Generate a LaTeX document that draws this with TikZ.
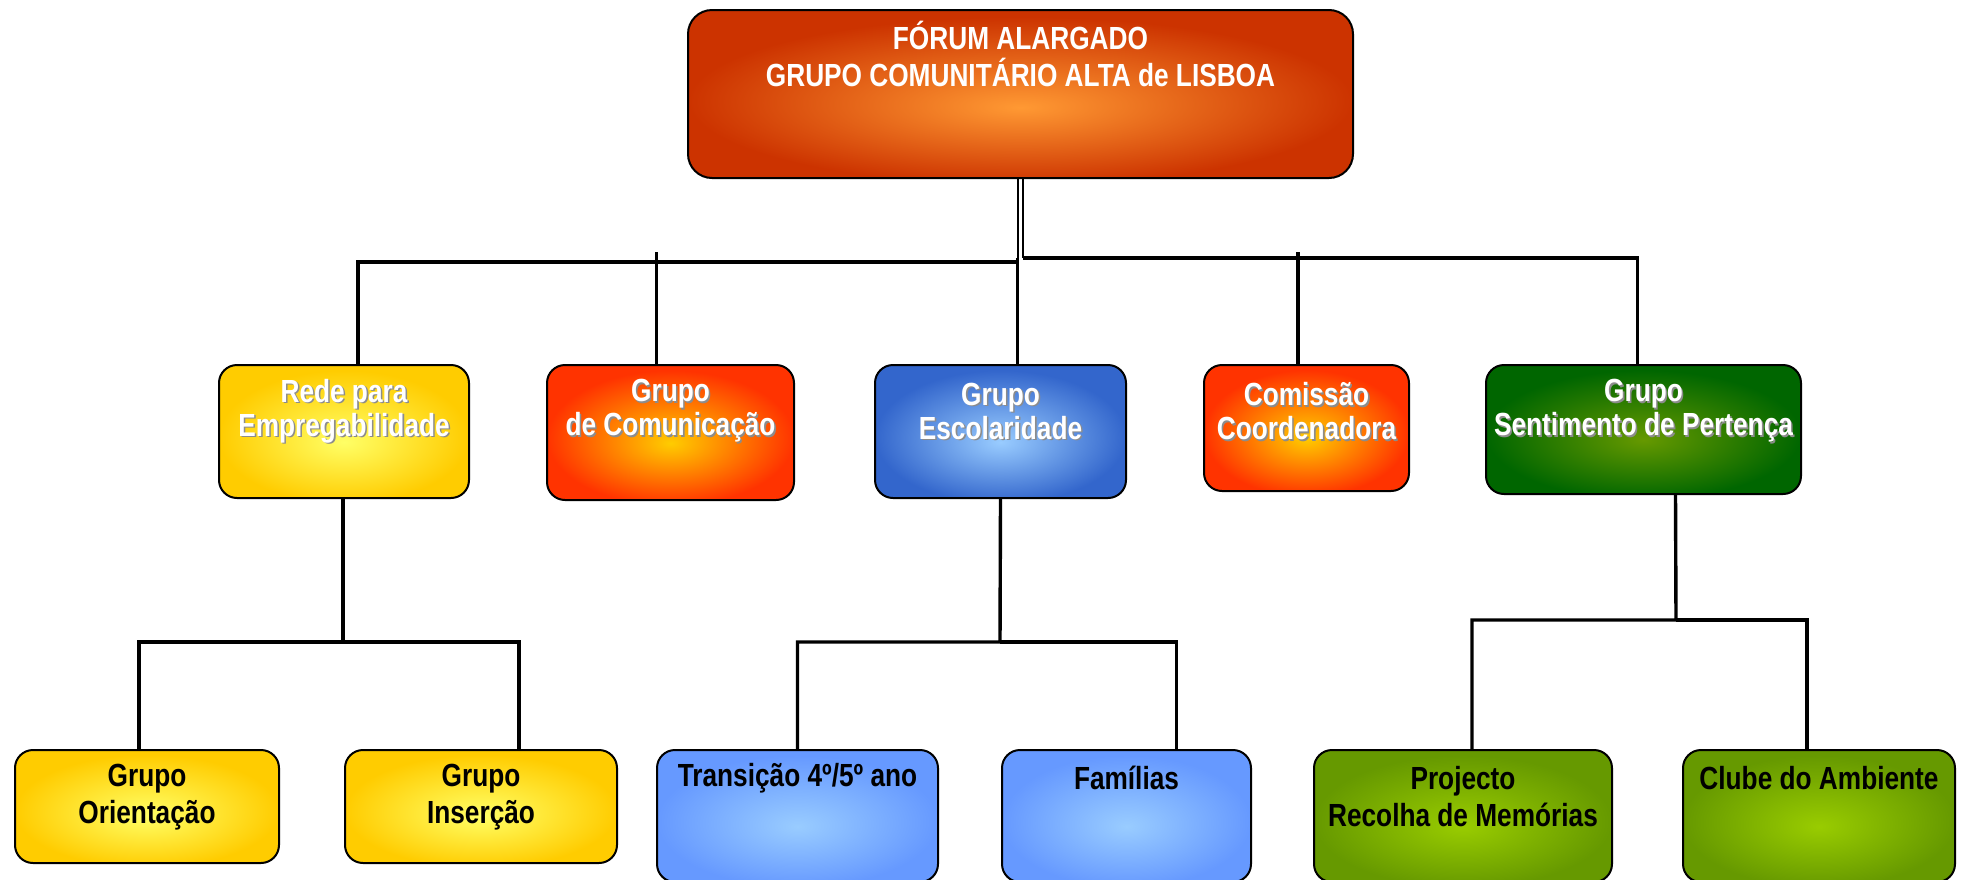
\documentclass[tikz,border=0pt]{standalone}
\usepackage{fontspec}
\newfontfamily\nar{Liberation Sans Bold}[FakeStretch=0.82]
\definecolor{glowin}{HTML}{FFFFFF}
\definecolor{glowout}{HTML}{000000}
\definecolor{topin}{HTML}{FF9933}\definecolor{topout}{HTML}{CC3300}
\definecolor{yelin}{HTML}{FFFF66}\definecolor{yelout}{HTML}{FFCC00}
\definecolor{redin}{HTML}{FFCC00}\definecolor{redout}{HTML}{FF3300}
\definecolor{bluin}{HTML}{99CCFF}\definecolor{bluout}{HTML}{3366CC}
\definecolor{lbin}{HTML}{99CCFF}\definecolor{lbout}{HTML}{6699FF}
\definecolor{dgin}{HTML}{669900}\definecolor{dgout}{HTML}{006600}
\definecolor{lgin}{HTML}{99CC00}\definecolor{lgout}{HTML}{669900}
\pgfdeclareradialshading[glowin,glowout]{glow}{\pgfpoint{0bp}{-4bp}}{color(0bp)=(glowin); color(25bp)=(glowout); color(50bp)=(glowout)}
\tikzset{
  box/.style={draw=black, line width=1pt, rectangle, rounded corners=9pt, inner sep=0pt, shade, shading=glow},
  glowc/.style 2 args={/utils/exec={\colorlet{glowin}{#1}\colorlet{glowout}{#2}}},
  conn/.style={draw=black, line width=1.7pt},
  trunk/.style={draw=black, line width=1.2pt},
  ttxt/.style={align=center, inner sep=0pt, text=white, font=\nar\fontsize{16}{18.8}\selectfont},
  wtxt/.style={align=center, inner sep=0pt, text=white, font=\nar\fontsize{16}{17}\selectfont},
  stxt/.style={align=center, inner sep=0pt, text=black!45, font=\nar\fontsize{16}{17}\selectfont},
  btxt/.style={align=center, inner sep=0pt, text=black, font=\nar\fontsize{16}{18.5}\selectfont},
}
\begin{document}
\begin{tikzpicture}[x=0.5pt, y=-0.5pt]
\useasboundingbox (0,0) rectangle (1961,879);
% boxes
\node[box, glowc={topin}{topout}, rounded corners=12pt, minimum width=332.5pt, minimum height=84pt] (top) at (1020.5,94) {};
\node[box, glowc={yelin}{yelout}, minimum width=125pt, minimum height=66.5pt] (rede) at (344,431.5) {};
\node[box, glowc={redin}{redout}, minimum width=123.5pt, minimum height=67.5pt] (com) at (670.5,432.5) {};
\node[box, glowc={bluin}{bluout}, minimum width=125.5pt, minimum height=66.5pt] (esc) at (1000.5,431.5) {};
\node[box, glowc={redin}{redout}, minimum width=102.5pt, minimum height=63pt] (cmc) at (1306.5,428) {};
\node[box, glowc={dgin}{dgout}, minimum width=157.5pt, minimum height=64.5pt] (sent) at (1643.5,429.5) {};
\node[box, glowc={yelin}{yelout}, minimum width=132pt, minimum height=56.5pt] (ori) at (147,806.5) {};
\node[box, glowc={yelin}{yelout}, minimum width=136pt, minimum height=56.5pt] (ins) at (481,806.5) {};
\node[box, glowc={lbin}{lbout}, minimum width=140.5pt, minimum height=66pt] (tra) at (797.5,816) {};
\node[box, glowc={lbin}{lbout}, minimum width=124.5pt, minimum height=66pt] (fam) at (1126.5,816) {};
\node[box, glowc={lgin}{lgout}, minimum width=149pt, minimum height=66pt] (pro) at (1463,816) {};
\node[box, glowc={lgin}{lgout}, minimum width=136pt, minimum height=66pt] (clu) at (1819,816) {};
% texts
\node[ttxt] (topT) at (1020.5,54) {FÓRUM ALARGADO\\GRUPO COMUNITÁRIO ALTA de LISBOA};
\node[stxt] (redeS) at (345.6,412.6) {Rede para\\Empregabilidade};
\node[wtxt] (redeT) at (344,411) {Rede para\\Empregabilidade};
\node[stxt] (comS) at (672.1,412.6) {Grupo\\de Comunicação};
\node[wtxt] (comT) at (670.5,411) {Grupo\\de Comunicação};
\node[stxt] (escS) at (1002.1,412.6) {Grupo\\Escolaridade};
\node[wtxt] (escT) at (1000.5,411) {Grupo\\Escolaridade};
\node[stxt] (cmcS) at (1308.1,412.6) {Comissão\\Coordenadora};
\node[wtxt] (cmcT) at (1306.5,411) {Comissão\\Coordenadora};
\node[stxt] (sentS) at (1645.1,412.6) {Grupo\\Sentimento de Pertença};
\node[wtxt] (sentT) at (1643.5,411) {Grupo\\Sentimento de Pertença};
\node[btxt] (oriT) at (147,797) {Grupo\\Orientação};
\node[btxt] (insT) at (481,797) {Grupo\\Inserção};
\node[btxt] (traT) at (797.5,778) {Transição 4º/5º ano};
\node[btxt] (famT) at (1126.5,778) {Famílias};
\node[btxt] (proT) at (1463,797) {Projecto\\Recolha de Memórias};
\node[btxt] (cluT) at (1819,778) {Clube do Ambiente};
% bus coordinates
\coordinate (bL) at (1018,262);
\coordinate (bR) at (1023,258);
\coordinate (tick) at (0,252);
\coordinate (r3) at (343,642);
\coordinate (e3) at (1000,642);
\coordinate (s3) at (1676,620);
% level 1 -> level 2
\draw[trunk] (top.south -| bL) -- (bL);
\draw[trunk] (top.south -| bR) -- (bR);
\draw[conn] (bL) -| ([xshift=7pt]rede.north);
\draw[conn] (bR) -| ([xshift=-3pt]sent.north);
\draw[conn] ([xshift=-7pt]com.north) -- ([xshift=-7pt]com.north |- tick);
\draw[conn] ([xshift=8.5pt]esc.north) -- ([xshift=8.5pt]esc.north |- bR);
\draw[conn] ([xshift=-4.3pt]cmc.north) -- ([xshift=-4.3pt]cmc.north |- tick);
% level 2 -> level 3
\draw[conn] ([xshift=-0.5pt]rede.south) -- (r3) -| ([xshift=-4pt]ori.north);
\draw[conn] (r3) -| ([xshift=19pt]ins.north);
\draw[conn] (esc.south) -- (e3) -| (tra.north);
\draw[conn] (e3) -| ([xshift=25pt]fam.north);
\draw[conn] ([xshift=16pt]sent.south) -- (s3) -| ([xshift=4.5pt]pro.north);
\draw[conn] (s3) -| ([xshift=-6pt]clu.north);
\end{tikzpicture}
\end{document}
